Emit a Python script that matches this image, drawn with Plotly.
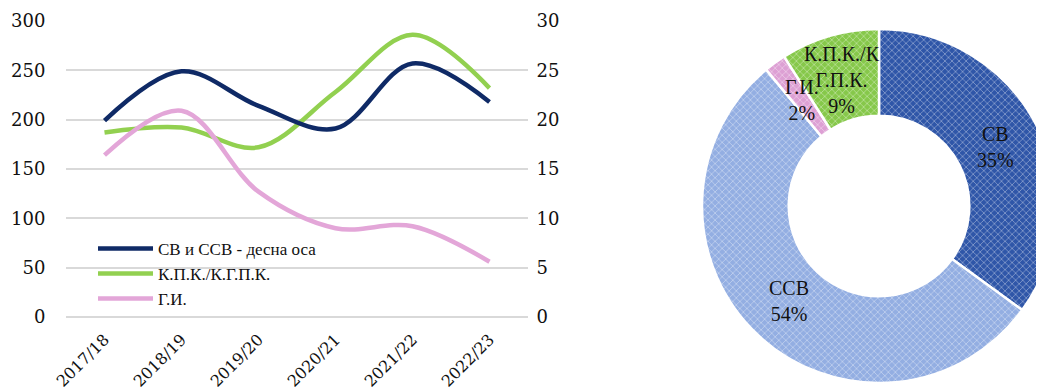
import math
import plotly.graph_objects as go


# ---------------- data ----------------
years = ["2017/18", "2018/19", "2019/20", "2020/21", "2021/22", "2022/23"]

sv_ssv = [19.9, 24.9, 21.4, 19.1, 25.7, 21.8]      # right axis
kpk_kgpk = [187, 192, 172, 228, 286, 232]
gi = [164, 209, 127, 90, 92, 56]

pie_labels = ["СВ", "ССВ", "Г.И.", "К.П.К./К.Г.П.К."]
pie_text = ["СВ", "ССВ", "Г.И.", "К.П.К./К<br>Г.П.К."]
pie_values = [35, 54, 2, 9]

NAVY = "#0F2A66"
GREEN = "#92D050"
PINK = "#E3A6D8"
FONT = "Liberation Serif"
TICKFONT = "DejaVu Serif"

# the page puts the figure 8px in from the top-left corner, so the figure
# is a bit wider than the window and the donut gets cut on the right
W, H = 1052, 391

fig = go.Figure()

# ---------------- lines ----------------
fig.add_trace(go.Scatter(
    x=years, y=sv_ssv, name="СВ и ССВ - десна оса",
    mode="lines", line=dict(color=NAVY, width=4.5, shape="spline", smoothing=1),
    yaxis="y2"
))
fig.add_trace(go.Scatter(
    x=years, y=kpk_kgpk, name="К.П.К./К.Г.П.К.",
    mode="lines", line=dict(color=GREEN, width=4.5, shape="spline", smoothing=1)
))
fig.add_trace(go.Scatter(
    x=years, y=gi, name="Г.И.",
    mode="lines", line=dict(color=PINK, width=4.5, shape="spline", smoothing=1)
))

# ---------------- donut ----------------
pie_x0, pie_x1 = 694 / W, 1048 / W
pie_y0, pie_y1 = 1 - 375 / H, 1 - 21 / H

fig.add_trace(go.Pie(
    labels=pie_labels, values=pie_values,
    sort=False, direction="clockwise", rotation=0,
    hole=0.51, textinfo="none", showlegend=False,
    domain=dict(x=[pie_x0, pie_x1], y=[pie_y0, pie_y1]),
    marker=dict(
        colors=["#2F56A8", "#93AEE2", "#DDA0D4", "#86C84A"],
        line=dict(color="white", width=2.5),
        pattern=dict(shape="x", fgcolor="white", fillmode="overlay",
                     size=5, solidity=0.25)
    )
))

# pie labels placed at the middle angle of each slice
cx = (pie_x0 + pie_x1) / 2 * W
cy = (pie_y0 + pie_y1) / 2 * H
R = min((pie_x1 - pie_x0) * W, (pie_y1 - pie_y0) * H) / 2
total = sum(pie_values)
acc = 0
annotations = []
for txt, v in zip(pie_text, pie_values):
    mid = (acc + v / 2) / total * 2 * math.pi
    acc += v
    r = 0.74 * R
    annotations.append(dict(
        x=(cx + r * math.sin(mid)) / W,
        y=(cy + r * math.cos(mid)) / H,
        xref="paper", yref="paper",
        xanchor="center", yanchor="middle",
        text=f"{txt}<br>{round(v / total * 100)}%",
        showarrow=False,
        font=dict(family=FONT, size=20, color="#111111")
    ))

fig.update_layout(
    width=W,
    height=H,
    margin=dict(l=0, r=0, t=0, b=0),
    paper_bgcolor="white",
    plot_bgcolor="white",
    font=dict(family=FONT, size=17, color="#111111"),
    showlegend=True,
    legend=dict(
        x=85 / W, y=0.43, xanchor="left", yanchor="top",
        bgcolor="rgba(0,0,0,0)",
        itemwidth=55, tracegroupgap=0,
        font=dict(family=FONT, size=17, color="#111111")
    ),
    xaxis=dict(
        domain=[58 / W, 520 / W],
        range=[-0.5, 5.5],
        tickangle=-45,
        tickfont=dict(family=TICKFONT, size=16),
        showgrid=False,
        showline=False,
        ticks="outside", ticklen=6, tickcolor="rgba(0,0,0,0)",
        automargin=False
    ),
    yaxis=dict(
        domain=[1 - 309 / H, 1 - 13 / H],
        range=[0, 300],
        dtick=50,
        tickfont=dict(family=TICKFONT, size=18),
        showgrid=True, gridcolor="#D9D9D9", gridwidth=1.5,
        zeroline=True, zerolinecolor="#D9D9D9", zerolinewidth=1.5,
        ticks="outside", ticklen=16, tickcolor="rgba(0,0,0,0)",
        automargin=False
    ),
    yaxis2=dict(
        overlaying="y", side="right", anchor="x",
        range=[0, 30],
        dtick=5,
        tickfont=dict(family=TICKFONT, size=18),
        showgrid=False, zeroline=False,
        ticks="outside", ticklen=4, tickcolor="rgba(0,0,0,0)",
        automargin=False
    ),
    annotations=annotations
)

fig.write_html("out.html")
